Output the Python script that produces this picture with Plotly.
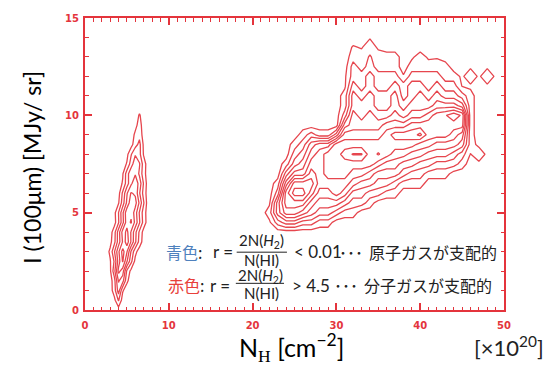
import numpy as np
import plotly.graph_objects as go

RED = "rgb(228,52,60)"
LINE_RED = "rgb(230,70,78)"

# ---- right (molecular) distribution: columns x=20..49, each with values at RIGHT_Y ----
RIGHT_X = [20, 21, 22, 23, 24, 25, 26, 27, 28, 29, 30, 31, 32, 33, 34,
           35, 36, 37, 38, 39, 40, 41, 42, 43, 44, 45, 46, 47, 48, 49]
RIGHT_Y = [3.5, 4.0, 4.5, 5.0, 5.5, 6.0, 6.5, 7.0, 7.5, 8.0, 8.5, 9.0,
           9.5, 10.0, 10.5, 11.0, 11.5, 12.0, 12.5, 13.0, 13.5, 14.0, 14.5]
RIGHT_COLS = [
    [0, 0, 0, 0, 0, 0, 0, 0, 0, 0, 0, 0, 0, 0, 0, 0, 0, 0, 0, 0, 0, 0, 0],
    [0, 0, 0, 0, 0, 0, 0, 0, 0, 0, 0, 0, 0, 0, 0, 0, 0, 0, 0, 0, 0, 0, 0],
    [0, 0, 0.3, 1, 0.3, 0, 0, 0, 0, 0, 0, 0, 0, 0, 0, 0, 0, 0, 0, 0, 0, 0, 0],
    [0, 0, 2, 4, 4, 2, 1, 0, 0, 0, 0, 0, 0, 0, 0, 0, 0, 0, 0, 0, 0, 0, 0],
    [0, 0, 3, 6, 7, 7, 5, 3, 1, 0, 0, 0, 0, 0, 0, 0, 0, 0, 0, 0, 0, 0, 0],
    [0, 0, 3, 6, 7, 9, 8, 5, 3, 2, 1, 0, 0, 0, 0, 0, 0, 0, 0, 0, 0, 0, 0],
    [0, 0, 2, 5, 7, 9, 8, 5, 4, 3, 2, 1, 0, 0, 0, 0, 0, 0, 0, 0, 0, 0, 0],
    [0, 0, 2, 4, 5, 7, 8, 7, 6, 5, 4, 2, 0, 0, 0, 0, 0, 0, 0, 0, 0, 0, 0],
    [0, 0, 1, 3, 4, 5, 6, 6, 6, 6, 5, 1, 0, 0, 0, 0, 0, 0, 0, 0, 0, 0, 0],
    [0, 0, 1, 3, 4, 5, 6, 7, 7, 7, 5, 1, 0, 0, 0, 0, 0, 0, 0, 0, 0, 0, 0],
    [0, 0, 0, 2, 4, 6, 6, 7, 7, 7, 7, 3, 0, 0, 0, 0, 0, 0, 0, 0, 0, 0, 0],
    [0, 0, 0, 1, 3, 5, 6, 7, 7, 8, 7, 6, 4, 2, 1, 1, 0.3, 0.3, 0, 0, 0, 0, 0],
    [0, 0, 0, 1, 2, 3, 5, 6, 7, 8.6, 7, 6, 5, 5, 4, 4, 3, 2, 2, 1, 0.6, 0, 0],
    [0, 0, 0, 0, 2, 3, 4, 6, 7, 8.6, 7, 6, 5, 4, 4, 3, 2, 2, 1, 1, 0.4, 0, 0],
    [0, 0, 0, 0, 1, 2, 4, 5, 7, 7, 7, 6, 5, 5, 4, 4, 3, 3, 2, 1.6, 1.1, 0.4, 0],
    [0, 0, 0, 0, 0, 2, 3, 4, 6, 7.6, 7, 6, 5, 4, 3, 3, 2, 2, 1, 1, 0.3, 0, 0],
    [0, 0, 0, 0, 0, 1, 3, 4, 5, 7, 7, 7, 6, 4, 3, 3, 2, 2, 1, 1, 0, 0, 0],
    [0, 0, 0, 0, 0, 1, 2, 4, 5, 6, 7, 8, 6, 5, 4, 4, 3, 2, 1, 1, 0, 0, 0],
    [0, 0, 0, 0, 0, 0, 1, 3, 4, 6, 7, 8, 6, 4, 3, 2, 2, 0.6, 0, 0, 0, 0, 0],
    [0, 0, 0, 0, 0, 0, 1, 2, 4, 5, 7, 8, 7, 5, 4, 3, 3, 2, 1, 0.3, 0, 0, 0],
    [0, 0, 0, 0, 0, 0, 1, 2, 3, 5, 6, 8.8, 7, 5, 4, 4, 3, 2, 1, 1, 0, 0, 0],
    [0, 0, 0, 0, 0, 0, 0, 1, 3, 4, 6, 7, 7, 6, 4, 3, 2, 2, 1, 0.3, 0, 0, 0],
    [0, 0, 0, 0, 0, 0, 0, 1, 2, 4, 5, 7, 7, 7, 5, 4, 3, 2, 1, 0.4, 0, 0, 0],
    [0, 0, 0, 0, 0, 0, 0, 1, 2, 4, 5, 7, 7, 7.4, 5, 3, 2, 1, 1, 0, 0, 0, 0],
    [0, 0, 0, 0, 0, 0, 0, 0, 2, 3, 5, 6, 7, 8.2, 5, 3, 2, 1, 0, 0, 0, 0, 0],
    [0, 0, 0, 0, 0, 0, 0, 0, 1, 2, 4, 5, 7, 7.3, 4, 2, 0.45, 0.3, 0, 0, 0, 0, 0],
    [0, 0, 0, 0, 0, 0, 0, 0, 0, 0.45, 1, 0.9, 0.9, 0.9, 0.9, 0.9, 0.3, 1.3, 0.3, 0, 0, 0, 0],
    [0, 0, 0, 0, 0, 0, 0, 0, 0.2, 1.3, 0.2, 0, 0, 0, 0, 0, 0, 0.3, 0, 0, 0, 0, 0],
    [0, 0, 0, 0, 0, 0, 0, 0, 0, 0.2, 0, 0, 0, 0, 0, 0, 0.3, 1.3, 0.3, 0, 0, 0, 0],
    [0, 0, 0, 0, 0, 0, 0, 0, 0, 0, 0, 0, 0, 0, 0, 0, 0, 0.3, 0, 0, 0, 0, 0],
]

# ---- left (atomic) distribution: rows at LEFT_Y, columns at LEFT_X ----
LEFT_X = [2.5, 3.0, 3.5, 4.0, 4.5, 5.0, 5.5, 6.0, 6.5, 7.0, 7.5, 8.0]
LEFT_Y = [0.0, 0.5, 1.0, 1.5, 2.0, 2.5, 3.0, 3.5, 4.0, 4.5, 5.0,
          5.5, 6.0, 6.5, 7.0, 7.5, 8.0, 8.5, 9.0, 9.5, 10.0, 10.5]
LEFT_ROWS = [
    [0, 0, 0, 0, 0, 0, 0, 0, 0, 0, 0, 0],
    [0, 0, 0.2, 1.6, 0, 0, 0, 0, 0, 0, 0, 0],
    [0, 0, 1.0, 3.0, 0.6, 0, 0, 0, 0, 0, 0, 0],
    [0, 0, 1.1, 3.6, 2.9, 0.7, 0, 0, 0, 0, 0, 0],
    [0, 0.3, 2.1, 4.8, 4.0, 1.3, 0.2, 0, 0, 0, 0, 0],
    [0, 0.4, 1.6, 4.0, 5.6, 3.6, 1.8, 0.2, 0, 0, 0, 0],
    [0, 0.7, 2.4, 4.3, 5.9, 4.6, 2.4, 0.8, 0, 0, 0, 0],
    [0, 0.2, 1.2, 3.0, 4.6, 6.1, 4.4, 2.7, 1.1, 0, 0, 0],
    [0, 0, 1.1, 3.0, 4.9, 5.8, 4.4, 2.8, 1.3, 0.1, 0, 0],
    [0, 0, 0.1, 1.4, 3.2, 5.1, 5.6, 4.2, 2.6, 1.1, 0, 0],
    [0, 0, 0.2, 1.5, 3.3, 5.2, 5.3, 4.0, 2.4, 1.0, 0, 0],
    [0, 0, 0, 0.4, 2.0, 3.7, 5.2, 4.9, 3.3, 1.6, 0, 0],
    [0, 0, 0, 0.1, 1.7, 3.4, 4.6, 4.3, 2.6, 1.1, 0, 0],
    [0, 0, 0, 0, 0.6, 2.0, 3.3, 4.2, 3.1, 1.4, 0, 0],
    [0, 0, 0, 0, 0.4, 2.0, 3.3, 3.4, 2.3, 0.9, 0, 0],
    [0, 0, 0, 0, 0, 0.6, 2.0, 3.2, 2.6, 1.0, 0, 0],
    [0, 0, 0, 0, 0, 0.2, 1.4, 2.4, 1.8, 0.4, 0, 0],
    [0, 0, 0, 0, 0, 0, 0.1, 1.1, 1.8, 0.3, 0, 0],
    [0, 0, 0, 0, 0, 0, 0, 0.7, 1.2, 0, 0, 0],
    [0, 0, 0, 0, 0, 0, 0, 0.2, 0.9, 0, 0, 0],
    [0, 0, 0, 0, 0, 0, 0, 0, 0.6, 0, 0, 0],
    [0, 0, 0, 0, 0, 0, 0, 0, 0, 0, 0, 0],
]

LEVEL_START, LEVEL_END, LEVEL_STEP = 0.5, 8.5, 1.0

X_TICKS = [0, 10, 20, 30, 40, 50]
Y_TICKS = [0, 5, 10, 15]

contour_style = dict(
    contours=dict(start=LEVEL_START, end=LEVEL_END, size=LEVEL_STEP, coloring="lines"),
    colorscale=[[0, LINE_RED], [1, LINE_RED]],
    line=dict(width=1.3, smoothing=0),
    showscale=False,
    hoverinfo="skip",
)

fig = go.Figure()
fig.add_trace(go.Contour(x=LEFT_X, y=LEFT_Y, z=np.array(LEFT_ROWS), **contour_style))
fig.add_trace(go.Contour(x=RIGHT_X, y=RIGHT_Y, z=np.array(RIGHT_COLS).T, **contour_style))

axis_common = dict(
    showgrid=False, zeroline=False, showline=True, linecolor=RED, linewidth=2,
    mirror="allticks", ticks="inside", ticklen=7, tickwidth=1.5, tickcolor=RED,
    tickfont=dict(family="DejaVu Sans", size=10, color=RED, weight="bold"),
)
fig.update_xaxes(range=[0, 50], tickvals=X_TICKS, ticklabelstandoff=5,
                 minor=dict(ticks="inside", dtick=1, ticklen=3.5, tickwidth=1.2, tickcolor=RED),
                 **axis_common)
fig.update_yaxes(range=[0, 15], tickvals=Y_TICKS, ticklabelstandoff=2,
                 minor=dict(ticks="inside", dtick=1, ticklen=3.5, tickwidth=1.2, tickcolor=RED),
                 **axis_common)

TXT = "Noto Sans CJK JP"
LAT = "Lato"
BLUE = "#4f81bd"
ann = []
# axis titles
ann.append(dict(text="I (100μm) [MJy/ sr]", xref="paper", yref="paper", x=-0.127, y=0.49,
                xanchor="center", yanchor="middle",
                textangle=-90, showarrow=False, font=dict(family=LAT, size=23, color="black")))
ann.append(dict(text="N<sub><span style='font-family:Liberation Serif'>H</span></sub> [cm<sup>−2</sup>]",
                xref="paper", yref="paper", x=0.494, y=-0.127, xanchor="center", yanchor="middle",
                showarrow=False, font=dict(family=LAT, size=25, color="black")))
ann.append(dict(text="[×10<sup>20</sup>]", xref="paper", yref="paper", x=1.012, y=-0.124,
                xanchor="center", yanchor="middle",
                showarrow=False, font=dict(family=LAT, size=22, color="#222")))


def t(text, x, y, size=16, anchor="center", family=TXT, color="#222"):
    ann.append(dict(text=text, x=x, y=y, xref="x", yref="y", xanchor=anchor, yanchor="middle",
                    showarrow=False, font=dict(family=family, size=size, color=color)))


# line 1
t(f"<span style='color:{BLUE}'>青色</span>:", 11.8, 3.0)
t("r =", 16.5, 3.0, family=LAT, size=17)
t("2N(<i>H</i><sub>2</sub>)", 21.1, 3.55, size=15, family=LAT)
t("N(HI)", 21.1, 2.58, size=15, family=LAT)
t("< 0.01", 24.7, 3.0, anchor="left", family=LAT, size=17)
t("･･･", 31.7, 3.0)
t("原子ガスが支配的", 33.65, 3.0, anchor="left")
# line 2
t("<span style='color:#e8403a'>赤色</span>:", 12.05, 1.27)
t("r =", 16.1, 1.27, family=LAT, size=17)
t("2N(<i>H</i><sub>2</sub>)", 20.9, 1.74, size=15, family=LAT)
t("N(HI)", 21.1, 0.86, size=15, family=LAT)
t("> 4.5", 24.46, 1.27, anchor="left", family=LAT, size=17)
t("･･･", 31.1, 1.27)
t("分子ガスが支配的", 33.05, 1.27, anchor="left")

shapes = [
    dict(type="line", xref="x", yref="y", x0=18.1, x1=24.1, y0=2.97, y1=2.97,
         line=dict(color="#222", width=1)),
    dict(type="line", xref="x", yref="y", x0=18.0, x1=23.75, y0=1.37, y1=1.37,
         line=dict(color="#222", width=1)),
]

fig.update_layout(
    width=557, height=365,
    margin=dict(l=85, r=53, t=15, b=55),
    paper_bgcolor="white", plot_bgcolor="white",
    showlegend=False,
    annotations=ann, shapes=shapes,
)

fig.write_html("out.html", config={"displayModeBar": False},
               post_script="document.body.style.margin='0';document.body.style.padding='0';")
